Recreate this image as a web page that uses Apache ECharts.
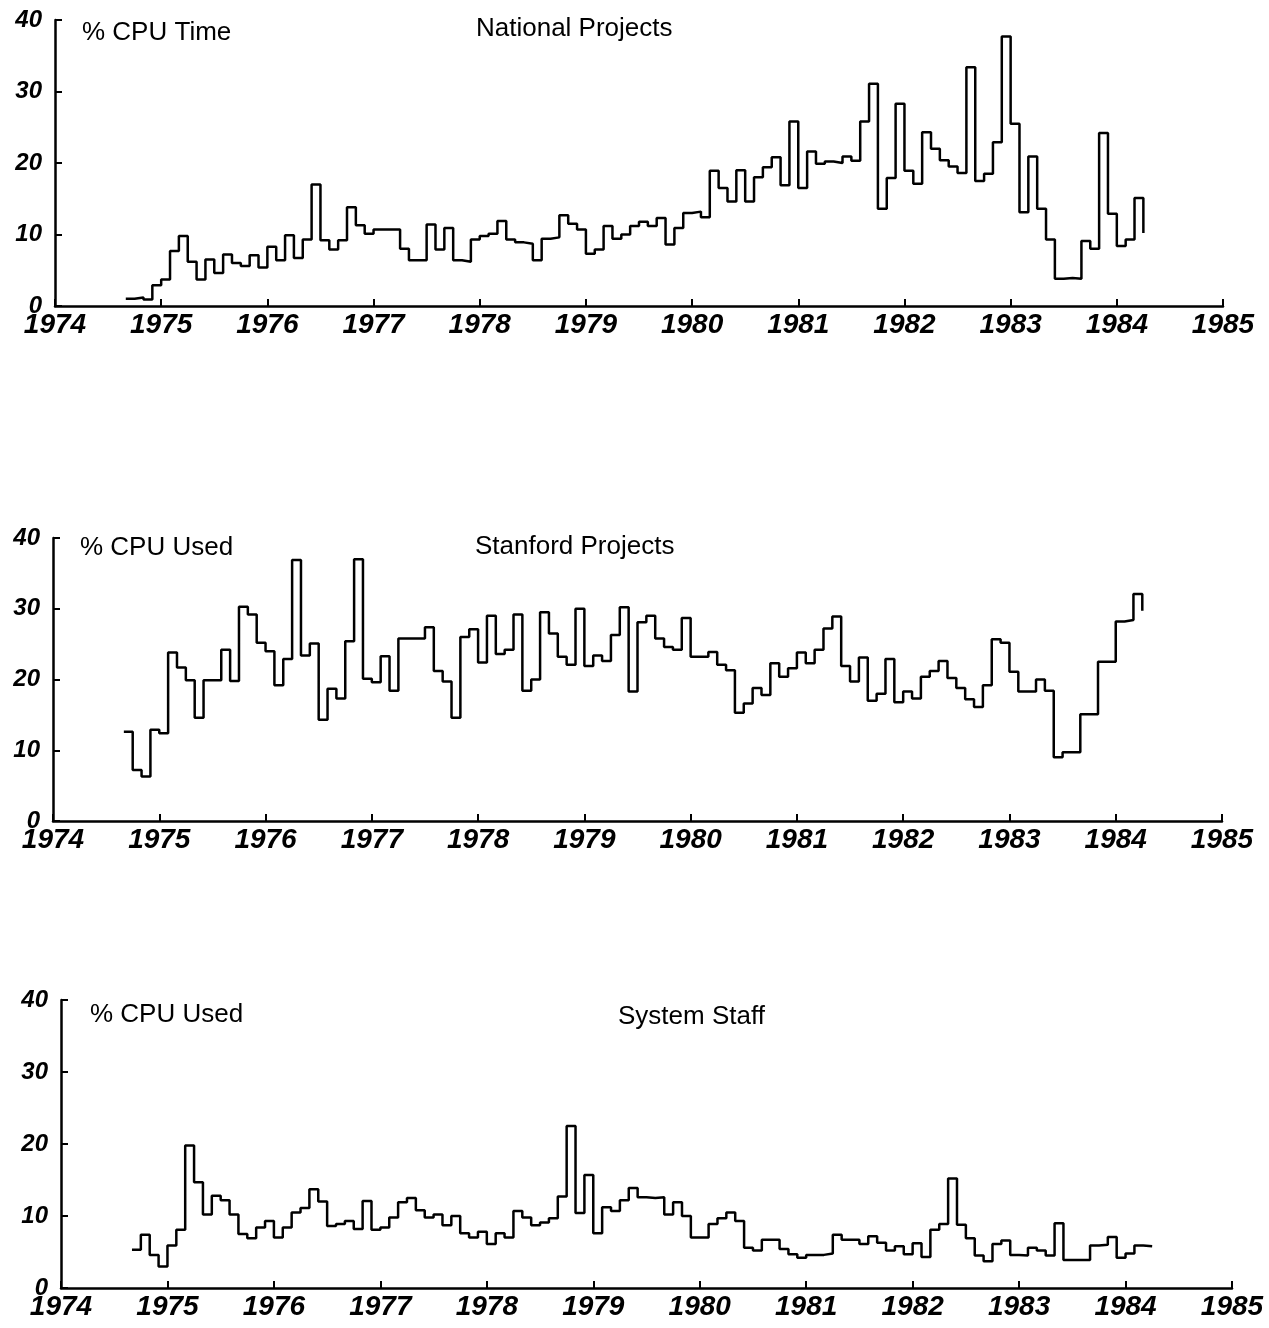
<!DOCTYPE html>
<html>
<head>
<meta charset="utf-8">
<script src="https://cdn.jsdelivr.net/npm/echarts@6/dist/echarts.min.js"></script>
<style>
html, body { margin: 0; padding: 0; background: #fff; }
#chart { width: 1269px; height: 1328px; }
</style>
</head>
<body>
<div id="chart"></div>
<script>
// monthly values, first month is Sep 1974
var startYear = 1974;
var startMonth = 8;

var national = [
    1.0, 1.2, 0.9, 2.9,
    3.7, 7.7, 9.8, 6.2, 3.7, 6.5, 4.6, 7.2, 6.0, 5.6, 7.1, 5.4,
    8.3, 6.4, 9.9, 6.7, 9.3, 17.0, 9.2, 7.9, 9.2, 13.8, 11.3, 10.1,
    10.7, 10.7, 10.7, 8.0, 6.4, 6.4, 11.4, 7.9, 10.9, 6.4, 6.2, 9.3,
    9.8, 10.1, 11.9, 9.3, 8.9, 8.7, 6.4, 9.4, 9.6, 12.7, 11.5, 10.7,
    7.3, 7.9, 11.2, 9.4, 10.0, 11.2, 11.8, 11.2, 12.3, 8.6, 10.9, 13.0,
    13.2, 12.4, 18.9, 16.5, 14.6, 19.0, 14.6, 18.0, 19.4, 20.8, 16.9, 25.8,
    16.5, 21.6, 19.9, 20.2, 20.0, 20.9, 20.3, 25.8, 31.1, 13.6, 17.9, 28.3,
    18.9, 17.1, 24.3, 22.0, 20.4, 19.5, 18.6, 33.4, 17.5, 18.5, 22.9, 37.7,
    25.5, 13.1, 20.9, 13.6, 9.3, 3.8, 3.9, 3.8, 9.1, 8.0, 24.2, 12.9,
    8.4, 9.3, 15.1, 10.2
];

var stanford = [
    12.6, 7.2, 6.3, 12.9,
    12.4, 23.8, 21.7, 19.9, 14.6, 19.9, 19.9, 24.2, 19.8, 30.3, 29.2, 25.2,
    24.0, 19.2, 22.9, 36.9, 23.4, 25.1, 14.3, 18.7, 17.3, 25.4, 37.0, 20.1,
    19.6, 23.3, 18.4, 25.8, 25.8, 25.8, 27.4, 21.2, 19.7, 14.6, 26.0, 27.1,
    22.4, 29.0, 23.6, 24.2, 29.2, 18.4, 20.0, 29.5, 26.5, 23.2, 22.1, 30.0,
    21.9, 23.4, 22.6, 26.3, 30.2, 18.3, 28.1, 29.0, 25.8, 24.6, 24.2, 28.7,
    23.2, 23.2, 23.9, 22.1, 21.3, 15.3, 16.6, 18.8, 17.8, 22.3, 20.4, 21.6,
    23.8, 22.3, 24.2, 27.2, 28.9, 21.9, 19.7, 23.1, 17.0, 18.0, 22.9, 16.8,
    18.3, 17.3, 20.4, 21.2, 22.6, 20.2, 18.8, 17.2, 16.1, 19.2, 25.7, 25.2,
    21.1, 18.3, 18.3, 20.0, 18.4, 9.0, 9.7, 9.7, 15.1, 15.1, 22.5, 22.5,
    28.2, 28.4, 32.1, 29.7
];

var staff = [
    5.3, 7.4, 4.6, 3.0,
    5.9, 8.1, 19.8, 14.7, 10.2, 12.8, 12.2, 10.2, 7.5, 6.9, 8.4, 9.3,
    7.0, 8.4, 10.5, 11.1, 13.7, 12.0, 8.6, 8.9, 9.3, 8.2, 12.1, 8.1,
    8.4, 9.8, 11.9, 12.5, 10.8, 9.8, 10.2, 8.7, 10.0, 7.6, 7.0, 7.8,
    6.1, 7.6, 7.0, 10.7, 9.8, 8.7, 9.1, 9.7, 12.7, 22.5, 10.4, 15.7,
    7.6, 11.2, 10.7, 12.2, 13.9, 12.6, 12.5, 12.6, 10.2, 11.9, 10.0, 7.0,
    7.0, 8.9, 9.7, 10.5, 9.3, 5.6, 5.2, 6.7, 6.7, 5.4, 4.7, 4.2,
    4.6, 4.6, 4.8, 7.4, 6.7, 6.7, 6.1, 7.2, 6.3, 5.2, 5.8, 4.7,
    6.2, 4.3, 8.1, 8.9, 15.2, 8.8, 6.9, 4.5, 3.7, 6.1, 6.6, 4.6,
    4.5, 5.6, 5.2, 4.5, 9.0, 3.9, 3.9, 3.9, 5.9, 6.0, 7.1, 4.2,
    4.8, 5.9, 5.8, 5.8
];

var yearMin = 1974, yearMax = 1985;
var yMax = 40, yStep = 10;

function toPoints(vals) {
    return vals.map(function (v, i) {
        return [startYear + (startMonth + i) / 12, v];
    });
}

var font = 'Liberation Sans';
var ink = '#000';

function xAxisFor(i) {
    return {
        gridIndex: i, type: 'value', min: yearMin, max: yearMax, interval: 1,
        splitLine: { show: false },
        axisLine: { lineStyle: { color: ink, width: 2.5 } },
        axisTick: { inside: true, length: 7, lineStyle: { color: ink, width: 2 } },
        axisLabel: {
            margin: 5, color: ink, fontSize: 28, fontStyle: 'italic', fontWeight: 'bold',
            fontFamily: font, formatter: function (v) { return String(v); }
        }
    };
}

function yAxisFor(i) {
    return {
        gridIndex: i, type: 'value', min: 0, max: yMax, interval: yStep,
        splitLine: { show: false },
        axisLine: { show: true, lineStyle: { color: ink, width: 2.5 } },
        axisTick: { show: true, inside: true, length: 7, lineStyle: { color: ink, width: 2 } },
        axisLabel: {
            margin: 13, color: ink, fontSize: 24, fontStyle: 'italic', fontWeight: 'bold',
            fontFamily: font
        }
    };
}

function stepSeries(i, name, vals) {
    return {
        name: name, type: 'line', step: 'end', xAxisIndex: i, yAxisIndex: i,
        symbol: 'none', silent: true,
        lineStyle: { color: ink, width: 2.5 },
        data: toPoints(vals)
    };
}

function label(text, left, top) {
    return {
        text: text, left: left, top: top, padding: 0,
        textStyle: { color: ink, fontSize: 26, fontWeight: 'normal', fontFamily: font }
    };
}

var option = {
    backgroundColor: '#fff',
    animation: false,
    title: [
        label('% CPU Time', 82, 20),
        label('National Projects', 476, 16),
        label('% CPU Used', 80, 535),
        label('Stanford Projects', 475, 534),
        label('% CPU Used', 90, 1002),
        label('System Staff', 618, 1004)
    ],
    grid: [
        { left: 55, top: 20, width: 1168, height: 286 },
        { left: 53, top: 538, width: 1169, height: 283 },
        { left: 61, top: 1000, width: 1171, height: 288 }
    ],
    xAxis: [xAxisFor(0), xAxisFor(1), xAxisFor(2)],
    yAxis: [yAxisFor(0), yAxisFor(1), yAxisFor(2)],
    series: [
        stepSeries(0, 'National Projects', national),
        stepSeries(1, 'Stanford Projects', stanford),
        stepSeries(2, 'System Staff', staff)
    ]
};

var chart = echarts.init(document.getElementById('chart'));
chart.setOption(option);
</script>
</body>
</html>
